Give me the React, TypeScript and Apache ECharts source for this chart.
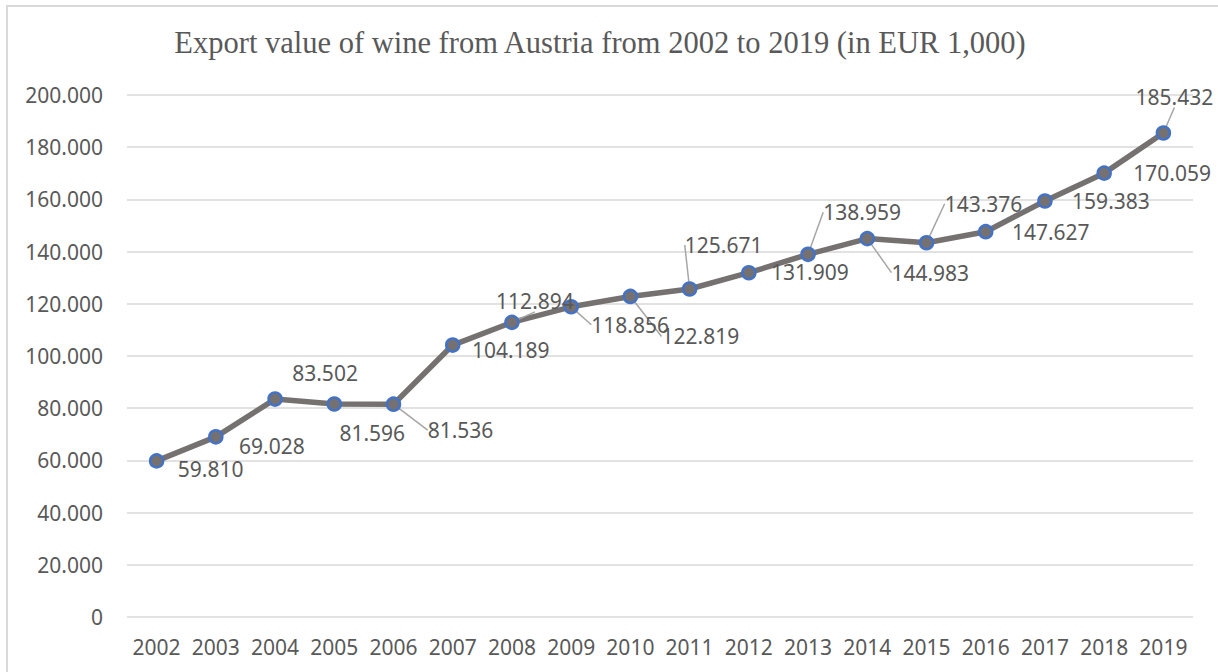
import React, { useEffect, useRef } from "react";
import * as echarts from "echarts";

const years = ["2002","2003","2004","2005","2006","2007","2008","2009","2010","2011","2012","2013","2014","2015","2016","2017","2018","2019"];
const exportValues = [59810, 69028, 83502, 81596, 81536, 104189, 112894, 118856, 122819, 125671, 131909, 138959, 144983, 143376, 147627, 159383, 170059, 185432];
const leaderIdx = [4, 6, 7, 8, 9, 11, 12, 13, 17];
// label center offsets relative to the point (styling, not data)
const labelOffsets: [number, number][] = [
  [54, 8], [56, 9], [50, -26], [38, 29], [67, 26], [58, 5], [23, -21], [59, 18], [70, 40],
  [34, -44], [61, -1], [54, -42], [63, 34], [57, -39], [65, 0], [66, 0], [68, 0], [11, -36],
];

const fmt = (v: number) => {
  if (v === 0) return "0";
  const s = String(Math.round(v));
  return s.replace(/\B(?=(\d{3})+(?!\d))/g, ".");
};

export default function App() {
  const ref = useRef<HTMLDivElement>(null);
  useEffect(() => {
    document.body.style.margin = "0";
    const chart = echarts.init(ref.current!, undefined, { renderer: "svg" });
    const font = "'Noto Sans', sans-serif";
    chart.setOption({
      animation: false,
      backgroundColor: "#ffffff",
      title: {
        text: "Export value of wine from Austria from 2002 to 2019 (in EUR 1,000)",
        left: 595,
        textAlign: "center",
        top: 22,
        textStyle: { fontFamily: "'Liberation Serif', 'Times New Roman', serif", fontSize: 30.5, fontWeight: "normal", color: "#595959" },
      },
      graphic: [
        {
          type: "rect",
          shape: { x: 7, y: 6, width: 1300, height: 700 },
          style: { fill: "none", stroke: "#d9d9d9", lineWidth: 2 },
          silent: true,
        },
      ],
      grid: { left: 127, right: 25, top: 95, bottom: 55 },
      xAxis: {
        type: "category",
        data: years,
        boundaryGap: true,
        axisLine: { show: false },
        axisTick: { show: false },
        axisLabel: { color: "#595959", fontSize: 21, fontFamily: font, margin: 19, interval: 0 },
      },
      yAxis: {
        type: "value",
        min: 0,
        max: 200000,
        interval: 20000,
        axisLine: { show: false },
        axisTick: { show: false },
        splitLine: { lineStyle: { color: "#d9d9d9", width: 1.5 } },
        axisLabel: { color: "#595959", fontSize: 21, fontFamily: font, margin: 24, formatter: (v: number) => fmt(v) },
      },
      series: [
        {
          type: "line",
          data: exportValues.map((v, i) => ({
            value: v,
            labelLine: { show: leaderIdx.includes(i) },
          })),
          lineStyle: { color: "#767171", width: 5.5 },
          itemStyle: { color: "#767171", borderColor: "#4472C4", borderWidth: 2.5 },
          symbol: "circle",
          symbolSize: 13,
          label: {
            show: true,
            position: "inside",
            align: "center",
            verticalAlign: "middle",
            color: "#595959",
            fontSize: 21,
            fontFamily: font,
            formatter: (p: any) => fmt(p.value),
          },
          labelLine: { lineStyle: { color: "#a6a6a6", width: 1.5 } },
          labelLayout: (p: any) => {
            const o = labelOffsets[p.dataIndex] || [0, 0];
            return { dx: o[0], dy: o[1] };
          },
        },
      ],
    });
    return () => chart.dispose();
  }, []);
  return <div ref={ref} style={{ width: 1218, height: 672 }} />;
}
